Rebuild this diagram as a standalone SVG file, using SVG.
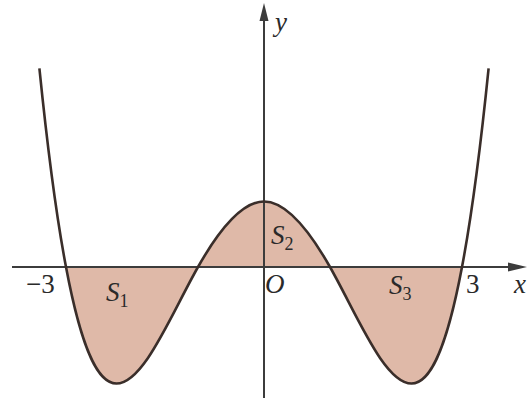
<svg xmlns="http://www.w3.org/2000/svg" width="530" height="400" viewBox="0 0 530 400">
<style>
.ax{stroke:#3c3c3c;stroke-width:2;fill:none}
.ah{fill:#3c3c3c}
.cv{stroke:#3a2e2a;stroke-width:2.6;fill:none;stroke-linejoin:round}
.fl{fill:#dfb9a8;stroke:none}
.t{font-family:"Liberation Serif","Times New Roman",serif;font-size:27px;fill:#2a2a2a}
.i{font-style:italic}
.sub{font-size:18px}
</style>
<rect width="530" height="400" fill="#ffffff"/>
<g id="regions">
<path class="fl" d="M66,267 C82.8,356 99.6,383.5 116.4,383.5 C143.6,383.5 170.8,315 198,267 C220,228.2 242,201.5 264,201.5 C286,201.5 308,228.2 330,267 C357.2,315 384.4,383.5 411.6,383.5 C428.4,383.5 445.2,356 462,267 Z"/>
</g>
<g id="axes">
<line class="ax" x1="12" y1="267" x2="512" y2="267"/>
<polygon class="ah" points="527,267 508,262.5 508,271.5"/>
<line class="ax" x1="264" y1="398" x2="264" y2="16"/>
<polygon class="ah" points="264,3 259.5,21 268.5,21"/>
</g>
<g id="curve">
<path class="cv" d="M39.4,68.3 C48.3,155.8 57.1,220.1 66,267 C82.8,356 99.6,383.5 116.4,383.5 C143.6,383.5 170.8,315 198,267 C220,228.2 242,201.5 264,201.5 C286,201.5 308,228.2 330,267 C357.2,315 384.4,383.5 411.6,383.5 C428.4,383.5 445.2,356 462,267 C470.9,220.1 479.7,155.8 488.6,68.3"/>
</g>
<g id="labels">
<text class="t i" x="275" y="31">y</text>
<text class="t i" x="514" y="293">x</text>
<text class="t" x="26" y="293">−3</text>
<text class="t" x="466" y="293">3</text>
<text class="t i" x="265" y="293">O</text>
<text class="t i" x="271" y="244">S<tspan class="sub" font-style="normal" dy="6">2</tspan></text>
<text class="t i" x="106" y="301">S<tspan class="sub" font-style="normal" dy="6">1</tspan></text>
<text class="t i" x="389" y="294">S<tspan class="sub" font-style="normal" dy="6">3</tspan></text>
</g>
</svg>
